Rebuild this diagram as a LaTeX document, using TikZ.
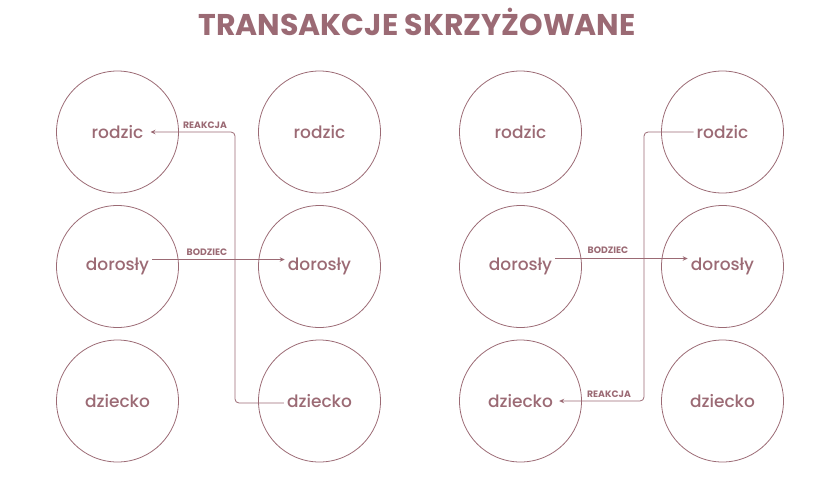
\documentclass[tikz,border=0pt]{standalone}
\usepackage{fontspec}
\setmainfont{Poppins}
\newfontfamily\egofont{Poppins Medium}
\usetikzlibrary{arrows.meta}
\definecolor{mauve}{HTML}{9B6A74}

\begin{document}
\begin{tikzpicture}[x=1pt,y=-1pt,
    ego node/.style={circle,draw=mauve,line width=0.8pt,minimum size=122pt,inner sep=0pt},
    ego text/.style={text=mauve,font=\egofont\fontsize{17}{20}\selectfont,inner sep=3pt},
    tag node/.style={text=mauve,font=\bfseries\fontsize{9.3}{11}\selectfont,inner sep=0pt},
    link/.style={draw=mauve,line width=0.8pt,rounded corners=4pt,-{Stealth[length=5pt,width=4.5pt]}}]
    \useasboundingbox (0,0) rectangle (840,480);

    \node[text=mauve,font=\bfseries\fontsize{30}{36}\selectfont,anchor=base] at (417,35) (title) {TRANSAKCJE SKRZYŻOWANE};

    % left pair
    \node[ego node] at (117.5,132) (a1) {};
    \node[ego node] at (117.5,266.5) (a2) {};
    \node[ego node] at (117.5,401) (a3) {};
    \node[ego node] at (319.5,132) (b1) {};
    \node[ego node] at (319.5,266.5) (b2) {};
    \node[ego node] at (319.5,401) (b3) {};
    \node[ego text] at (a1) (ta1) {rodzic};
    \node[ego text] at (a2) (ta2) {dorosły};
    \node[ego text] at (a3) (ta3) {dziecko};
    \node[ego text] at (b1) (tb1) {rodzic};
    \node[ego text] at (b2) (tb2) {dorosły};
    \node[ego text] at (b3) (tb3) {dziecko};

    % right pair
    \node[ego node] at (520.5,132) (c1) {};
    \node[ego node] at (520.5,266.5) (c2) {};
    \node[ego node] at (520.5,401) (c3) {};
    \node[ego node] at (722.5,132) (d1) {};
    \node[ego node] at (722.5,266.5) (d2) {};
    \node[ego node] at (722.5,401) (d3) {};
    \node[ego text] at (c1) (tc1) {rodzic};
    \node[ego text] at (c2) (tc2) {dorosły};
    \node[ego text] at (c3) (tc3) {dziecko};
    \node[ego text] at (d1) (td1) {rodzic};
    \node[ego text] at (d2) (td2) {dorosły};
    \node[ego text] at (d3) (td3) {dziecko};

    \coordinate (bendL) at (235,266.5);
    \coordinate (bendR) at (644,266.5);

    \path[link]
        ([yshift=7pt]ta2.east) -- ([yshift=7pt]tb2.west);
    \path[link]
        ([yshift=-2pt]tb3.west) -| (bendL) |- ([xshift=4pt]ta1.east);
    \path[link]
        ([yshift=8pt]tc2.east) -- ([yshift=8pt]td2.west);
    \path[link]
        (td1.west) -| (bendR) |- ([xshift=3pt]tc3.east);

    \node[tag node] at (205,125) (reakcjaL) {REAKCJA};
    \node[tag node] at (207,252.5) (bodziecL) {BODZIEC};
    \node[tag node] at (608,250) (bodziecR) {BODZIEC};
    \node[tag node] at (609,394) (reakcjaR) {REAKCJA};
\end{tikzpicture}
\end{document}
